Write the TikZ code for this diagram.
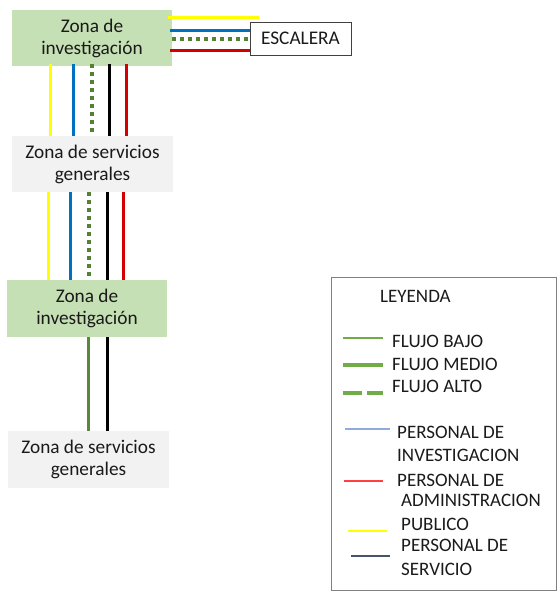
\documentclass[tikz,border=0pt]{standalone}
\usepackage{fontspec}
\setmainfont{Carlito}
\usetikzlibrary{calc}
\definecolor{invfill}{HTML}{C5E0B4}
\definecolor{srvfill}{HTML}{F2F2F2}
\definecolor{cyel}{HTML}{FFFF00}
\definecolor{cblue}{HTML}{0070C0}
\definecolor{cred}{HTML}{D40000}
\definecolor{cgreen}{HTML}{548235}
\definecolor{cgreenl}{HTML}{70AD47}
\definecolor{lblue}{HTML}{8FAADC}
\definecolor{lred}{HTML}{FF4040}
\definecolor{ldark}{HTML}{44546A}
\definecolor{txt}{HTML}{1A1A1A}
\tikzset{
  zone/.style={rectangle, inner sep=0pt, align=center, text=txt,
    font=\fontsize{19.3}{22}\selectfont},
  invzone/.style={zone, fill=invfill, minimum width=160pt, minimum height=56pt},
  srvzone/.style={zone, fill=srvfill, minimum width=161pt, minimum height=56pt},
  flow/.style={line width=3pt},
  yel/.style={flow, draw=cyel},
  blu/.style={flow, draw=cblue},
  rdl/.style={flow, draw=cred},
  blk/.style={flow, draw=black},
  gdot/.style={line width=3.5pt, draw=cgreen, dash pattern=on 3.5pt off 4.5pt},
  gsol/.style={flow, draw=cgreen!85!cgreenl},
  legtxt/.style={anchor=west, inner sep=0pt, text=txt, font=\fontsize{19}{22}\selectfont},
  legline/.style={line width=1.4pt},
}
\begin{document}
\begin{tikzpicture}[x=1pt,y=-1pt]
\useasboundingbox (0,0) rectangle (560,595);

% zones
\node[invzone] (inv1) at (92,38) {Zona de\\investigación};
\node[zone, draw=black!75, line width=1pt, fill=white, minimum width=101pt, minimum height=33pt] (esc) at (300.5,38.5) {ESCALERA};
\node[srvzone] (srv1) at (92.5,164) {Zona de servicios\\generales};
\node[invzone, minimum height=57pt] (inv2) at (87,308.5) {Zona de\\investigación};
\node[srvzone, minimum height=57pt] (srv2) at (88.5,459.5) {Zona de servicios\\generales};

% horizontal flows to ESCALERA
\coordinate (hy) at (168,17);
\coordinate (hyE) at (259,17);
\draw[yel] (hy) -- (hyE);
\coordinate (hb) at (170,30);
\draw[blu] (hb) -- (esc.west |- hb);
\coordinate (hg) at (172,39);
\draw[gdot] (hg) -- (esc.west |- hg);
\coordinate (hr) at (170,50);
\draw[rdl] (hr) -- (esc.west |- hr);

% segment 1: inv1 -> srv1
\foreach \dx/\st in {-42/yel,-19/blu,0/gdot,17/blk,34/rdl}{
  \path ($(inv1.south)+(\dx,-2)$) coordinate (a);
  \draw[\st] (a) -- (a |- srv1.north);
}
% segment 2: srv1 -> inv2
\foreach \dx/\st in {-39/yel,-17/blu,2/gdot,20/blk,36/rdl}{
  \path ($(inv2.north)+(\dx,0)$) coordinate (b);
  \draw[\st] (b |- srv1.south) -- (b);
}
% segment 3: inv2 -> srv2
\foreach \dx/\st in {1/gsol,20/blk}{
  \path ($(inv2.south)+(\dx,0)$) coordinate (c);
  \draw[\st] (c) -- (c |- srv2.north);
}

% legend
\draw[draw=black!50, line width=1pt] (331,277) rectangle (556,590);
\node[legtxt] (ley) at (380,296) {LEYENDA};

\draw[draw=cgreenl, line width=2.5pt] (343,338) -- (383,338);
\node[legtxt] (fb) at (392,341) {FLUJO BAJO};
\draw[draw=cgreenl, line width=4.5pt] (343,365) -- (383,365);
\node[legtxt] (fm) at (392,364) {FLUJO MEDIO};
\draw[draw=cgreenl, line width=4.5pt, dash pattern=on 19pt off 5pt] (343,393) -- (383,393);
\node[legtxt] (fa) at (392,386) {FLUJO ALTO};

\draw[legline, draw=lblue] (345,429) -- (390,429);
\node[legtxt] (pi1) at (397,432) {PERSONAL DE};
\node[legtxt] (pi2) at (397,455.5) {INVESTIGACION};
\draw[legline, draw=lred] (344,481) -- (383,481);
\node[legtxt] (pa1) at (397,480) {PERSONAL DE};
\node[legtxt] (pa2) at (401,500.5) {ADMINISTRACION};
\draw[legline, draw=cyel] (348,531) -- (387,531);
\node[legtxt] (pu) at (401,524) {PUBLICO};
\draw[legline, draw=ldark] (351,556) -- (390,556);
\node[legtxt] (ps1) at (401,545.5) {PERSONAL DE};
\node[legtxt] (ps2) at (401,569) {SERVICIO};
\end{tikzpicture}
\end{document}
